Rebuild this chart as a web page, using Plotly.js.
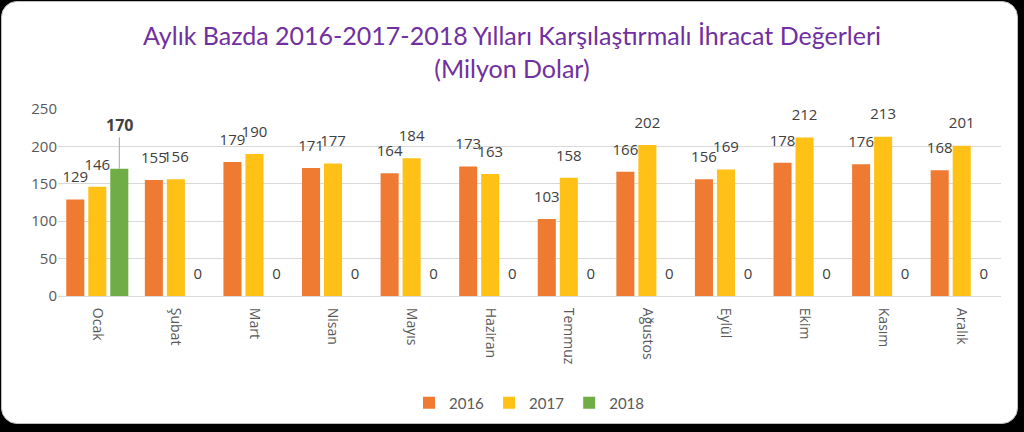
<!DOCTYPE html>
<html><head><meta charset="utf-8">
<script src="https://cdn.plot.ly/plotly-3.0.1.min.js"></script>
<style>
html,body{margin:0;padding:0;background:#000;width:1024px;height:432px;overflow:hidden}
#frame{position:absolute;left:1px;top:1px;width:1015px;height:421px;background:#fff;border:1px solid #bfbfbf;border-radius:16px}
#chart{position:absolute;left:0;top:0;width:1024px;height:432px}
</style></head><body>
<div id="frame"></div>
<div id="chart"></div>
<script>
const months = ['Ocak','Şubat','Mart','Nisan','Mayıs','Haziran','Temmuz','Ağustos','Eylül','Ekim','Kasım','Aralık'];
const years = ['2016','2017','2018'];
const v2016 = [129,155,179,171,164,173,103,166,156,178,176,168];
const v2017 = [146,156,190,177,184,163,158,202,169,212,213,201];
const v2018 = [170,0,0,0,0,0,0,0,0,0,0,0];
const colors = ['#EF7A32','#FFC116','#70AD47'];

const series = [v2016, v2017, v2018];
const idx = months.map((m,i)=>i);
const slot = 0.28;
const traces = [];
series.forEach((vals,k)=>{
  traces.push({
    type:'bar', name:years[k], x:idx, y:vals,
    marker:{color:colors[k]}, hoverinfo:'skip'
  });
});
series.forEach((vals,k)=>{
  const off = (k-1)*slot;
  traces.push({
    type:'scatter', mode:'markers+text', showlegend:false, hoverinfo:'skip',
    x: idx.map(i=>i+off), y: vals,
    text: vals.map((v,i)=> (k===2 && v>0) ? '' : String(v)),
    textposition:'top center',
    marker:{size:20, opacity:0, color:'rgba(0,0,0,0)'},
    textfont:{family:'Open Sans', size:15, color:'#404040'},
    cliponaxis:false
  });
});

const layout = {
  width:1024, height:432,
  paper_bgcolor:'rgba(0,0,0,0)', plot_bgcolor:'rgba(0,0,0,0)',
  margin:{l:58, r:23, t:109, b:136},
  barmode:'group', bargap:0.16, bargroupgap:0.18,
  title:{text:'Aylık Bazda 2016-2017-2018 Yılları Karşılaştırmalı İhracat Değerleri<br>(Milyon Dolar)',
    font:{family:'Lato', size:25, color:'#7030A0'}, x:0.5, xanchor:'center', y:0.895, yanchor:'top'},
  xaxis:{
    range:[-0.5, 11.5], tickmode:'array', tickvals:idx, ticktext:months,
    tickangle:90, showgrid:false, zeroline:false,
    showline:true, linecolor:'#d9d9d9', linewidth:1, ticks:'', ticklabelstandoff:8,
    tickfont:{family:'Open Sans', size:14, color:'#595959'}
  },
  yaxis:{
    range:[0,250], dtick:50, showgrid:true, gridcolor:'#d9d9d9', gridwidth:1,
    zeroline:false, showline:false, ticks:'', ticklen:0,
    tickfont:{family:'Open Sans', size:15, color:'#595959'}
  },
  legend:{orientation:'h', x:0.5, xanchor:'center', y:-0.572, yanchor:'middle',
    font:{family:'Lato', size:15, color:'#595959'}, itemwidth:30, traceorder:'normal'},
  annotations:[{
    x: 0 + slot, y: v2018[0], xref:'x', yref:'y',
    text:'<b>'+v2018[0]+'</b>', showarrow:true, arrowhead:0, arrowwidth:1, arrowcolor:'#a6a6a6',
    ax:0, ay:-44, standoff:0,
    font:{family:'Open Sans', size:16, color:'#404040'}
  }]
};
Plotly.newPlot('chart', traces, layout, {displayModeBar:false, staticPlot:true});
</script>
</body></html>
